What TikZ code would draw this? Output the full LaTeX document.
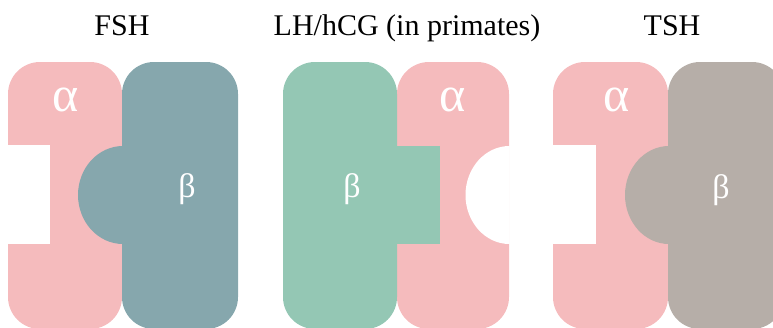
\documentclass[tikz,border=0pt]{standalone}
\usepackage{fontspec}
\setmainfont{Liberation Serif}
\definecolor{alphapink}{RGB}{245,187,189}
\definecolor{fshteal}{RGB}{134,167,173}
\definecolor{lhgreen}{RGB}{148,199,180}
\definecolor{tshgray}{RGB}{182,174,168}

\begin{document}
\begin{tikzpicture}[x=1pt,y=-1pt]
\tikzstyle{unit} = [rounded corners=32pt]
\tikzstyle{title} = [anchor=base,inner sep=0pt,font=\fontsize{30}{36}\selectfont]
\tikzstyle{alab} = [text=white,inner sep=0pt,font=\fontsize{50}{60}\selectfont]
\tikzstyle{blab} = [text=white,inner sep=0pt,font=\fontsize{34}{40}\selectfont]
\useasboundingbox (0,0) rectangle (773,327);

\fill[alphapink,unit] (8,62) rectangle (122,329);
\fill[white] (7,145) rectangle (50,244);
\fill[fshteal,unit] (122,62) rectangle (238,329);
\fill[fshteal] (123,146) arc[start angle=270,end angle=90,x radius=45,y radius=49] -- cycle;

\fill[alphapink,unit] (397,62) rectangle (509,329);
\fill[white] (509.5,146) arc[start angle=270,end angle=90,x radius=44,y radius=49] -- cycle;
\fill[lhgreen,unit] (283,62) rectangle (397,329);
\fill[lhgreen] (396,146) rectangle (440,244);

\fill[alphapink,unit] (553,62) rectangle (668,329);
\fill[white] (552,145) rectangle (596,244);
\fill[tshgray,unit] (668,62) rectangle (784,329);
\fill[tshgray] (669,146) arc[start angle=270,end angle=90,x radius=44,y radius=49] -- cycle;

\node[title] (fsh) at (122,35) {FSH};
\node[title] (lh) at (407,35) {LH/hCG (in primates)};
\node[title] (tsh) at (672,35) {TSH};

\node[alab] (fsha) at (66,100) {α};
\node[blab] (fshb) at (187,189) {β};
\node[alab] (lha) at (453,100) {α};
\node[blab] (lhb) at (352,189) {β};
\node[alab] (tsha) at (617,100) {α};
\node[blab] (tshb) at (721,190) {β};
\end{tikzpicture}
\end{document}
